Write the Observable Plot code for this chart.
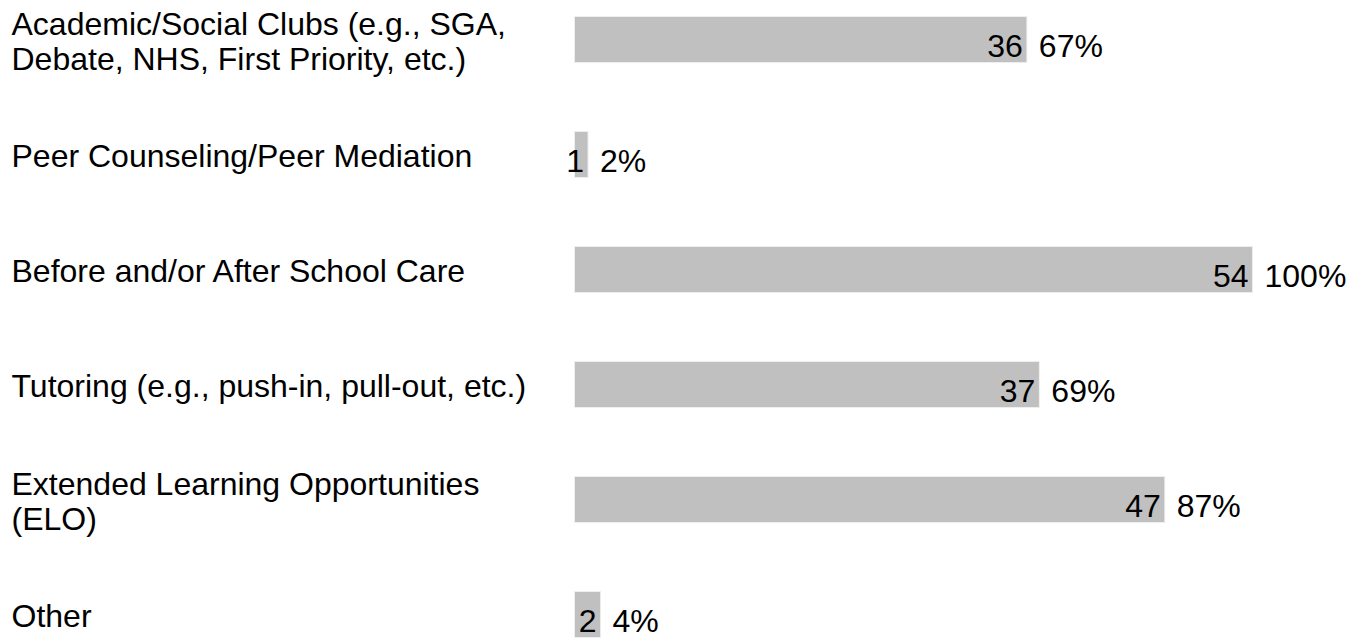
<!DOCTYPE html>
<html>
<head>
<meta charset="utf-8">
<script src="https://cdn.jsdelivr.net/npm/d3@7"></script>
<script src="https://cdn.jsdelivr.net/npm/@observablehq/plot@0.6"></script>
<style>
html, body { margin: 0; padding: 0; background: #fff; overflow: hidden; }
#chart svg { display: block; }
</style>
</head>
<body>
<div id="chart"></div>
<script>
const categories = [
  "Academic/Social Clubs (e.g., SGA, Debate, NHS, First Priority, etc.)",
  "Peer Counseling/Peer Mediation",
  "Before and/or After School Care",
  "Tutoring (e.g., push-in, pull-out, etc.)",
  "Extended Learning Opportunities (ELO)",
  "Other"
];
const labels = [
  "Academic/Social Clubs (e.g., SGA,\nDebate, NHS, First Priority, etc.)",
  "Peer Counseling/Peer Mediation",
  "Before and/or After School Care",
  "Tutoring (e.g., push-in, pull-out, etc.)",
  "Extended Learning Opportunities\n(ELO)",
  "Other"
];
const counts = [36, 1, 54, 37, 47, 2];
const percents = ["67%", "2%", "100%", "69%", "87%", "4%"];

const data = categories.map((c, i) => ({cat: c, label: labels[i], n: counts[i], pct: percents[i]}));

const font = "Arial, 'Liberation Sans', Helvetica, sans-serif";

const chart = Plot.plot({
  width: 1353,
  height: 641,
  marginLeft: 575,
  marginRight: 101,
  marginTop: 14,
  marginBottom: 2,
  style: {fontFamily: font, fontSize: "32px", color: "#000", background: "#fff", overflow: "visible"},
  x: {domain: [0, 54], axis: null},
  y: {domain: categories, paddingInner: 0.612, paddingOuter: 0, axis: null},
  marks: [
    Plot.barX(data, {y: "cat", x: "n", fill: "#eeeeee", stroke: "#eeeeee", strokeWidth: 2}),
    Plot.barX(data, {y: "cat", x: "n", fill: "#c0c0c0"}),
    Plot.text(data, {y: "cat", text: "label", frameAnchor: "left", textAnchor: "start", dx: -564, dy: 1, lineHeight: 1.12, fill: "#000", fontSize: 32}),
    Plot.text(data, {y: "cat", x: "n", text: d => String(d.n), textAnchor: "end", dx: -4, dy: 7, fill: "#000", fontSize: 32}),
    Plot.text(data, {y: "cat", x: "n", text: "pct", textAnchor: "start", dx: 12, dy: 7, fill: "#000", fontSize: 32})
  ]
});
document.getElementById("chart").appendChild(chart);
</script>
</body>
</html>
